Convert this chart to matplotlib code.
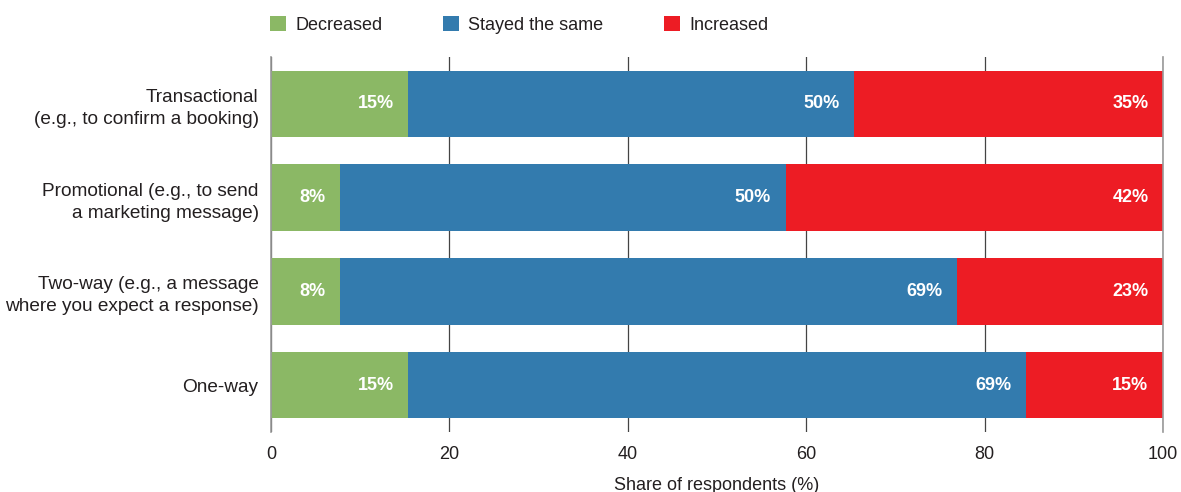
import matplotlib.pyplot as plt
import numpy as np

categories = [
    "Transactional\n(e.g., to confirm a booking)",
    "Promotional (e.g., to send\na marketing message)",
    "Two-way (e.g., a message\nwhere you expect a response)",
    "One-way",
]
decreased = [15.4, 7.7, 7.7, 15.4]
stayed = [50.0, 50.0, 69.2, 69.2]
increased = [34.6, 42.3, 23.1, 15.4]

series = [
    ("Decreased", decreased, "#8bb865"),
    ("Stayed the same", stayed, "#337bae"),
    ("Increased", increased, "#ed1c24"),
]

plt.rcParams["font.family"] = ["Liberation Sans", "DejaVu Sans"]
text_color = "#231f20"
fs = 13

fig = plt.figure(figsize=(11.81, 4.92), dpi=100)
ax = fig.add_axes([271 / 1181, 1 - 432 / 492, 892 / 1181, 375 / 492])

y = np.arange(len(categories))
left = np.zeros(len(categories))
for name, vals, color in series:
    vals = np.array(vals)
    ax.barh(y, vals, left=left, height=0.71, color=color, label=name, zorder=2)
    for yi, l, v in zip(y, left, vals):
        ax.annotate(f"{v:.0f}%", (l + v, yi), xytext=(-10.5, 0), textcoords="offset points",
                    ha="right", va="center", color="white", fontsize=fs, fontweight="bold")
    left += vals

ax.set_ylim(3.5, -0.5)
ax.set_xlim(0, 100)
ax.set_yticks(y)
ax.set_yticklabels(categories, fontsize=13.7, color=text_color, linespacing=1.38)
ax.set_xticks(range(0, 101, 20))
ax.set_xticklabels([str(t) for t in range(0, 101, 20)], fontsize=fs, color=text_color)
ax.tick_params(axis="both", length=0)
ax.tick_params(axis="x", pad=10)
ax.tick_params(axis="y", pad=9)
ax.set_xlabel("Share of respondents (%)", fontsize=fs, color=text_color, labelpad=10)

ax.grid(axis="x", color="#444444", linewidth=0.9, zorder=0)
for side in ["top", "bottom"]:
    ax.spines[side].set_visible(False)
for side in ["left", "right"]:
    ax.spines[side].set_color("#999999")
    ax.spines[side].set_linewidth(1.2)

leg = fig.legend(loc="upper left", bbox_to_anchor=(270 / 1181, 1 - 16 / 492), ncol=3,
                 frameon=False, fontsize=fs, handlelength=0.9, handleheight=0.9,
                 columnspacing=3.35, handletextpad=0.5, borderpad=0, borderaxespad=0)
for t in leg.get_texts():
    t.set_color(text_color)

fig.savefig("out.png", dpi=100)
